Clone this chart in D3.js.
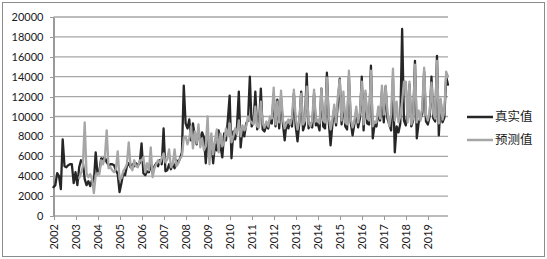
<!DOCTYPE html>
<html>
  <head>
    <meta charset="utf-8" />
    <title>真实值与预测值</title>
    <script src="https://d3js.org/d3.v7.min.js"></script>
    <style>
      body {
        margin: 0;
        background: #fff;
      }
      .axis text {
        font-family: Lato, "Noto Sans", sans-serif;
        font-size: 11px;
        fill: #1a1a1a;
      }
      .axis path,
      .axis line {
        stroke: #9a9a9a;
        shape-rendering: crispEdges;
      }
      .legend text {
        font-family: "Noto Sans CJK SC", sans-serif;
        font-size: 12.5px;
        fill: #1a1a1a;
      }
    </style>
  </head>
  <body>
    <svg id="chart" width="547" height="259"></svg>

    <script>
      // Year labels on the x axis (one label every 12 monthly points)
      const years = d3.range(2002, 2020);
      const yTicks = d3.range(0, 20001, 2000);
      const seriesNames = ['真实值', '预测值'];

      // Monthly values, one row per year
      const realValues = [
        2900, 3100, 4300, 4000, 2700, 7700, 5000, 4900, 5100, 5200, 5200, 3300,   // 2002
        4400, 3100, 4900, 5600, 5400, 3700, 3100, 3500, 3000, 3600, 3400, 6400,   // 2003
        4200, 4500, 5800, 5700, 5900, 5400, 5100, 5200, 5200, 5100, 4600, 4200,   // 2004
        2400, 3300, 4300, 4100, 5000, 5300, 4900, 5200, 5000, 5300, 5100, 5300,   // 2005
        7300, 4300, 4100, 4500, 4400, 5200, 4300, 5000, 5300, 5000, 5600, 5200,   // 2006
        8800, 4500, 4600, 5200, 4700, 5300, 4800, 5600, 5400, 5800, 6400, 13100,  // 2007
        9300, 8800, 9700, 7600, 9300, 8000, 7200, 8700, 7500, 8400, 7900, 5300,   // 2008
        8000, 6500, 7800, 5300, 7200, 6600, 8600, 7000, 5900, 8300, 7600, 9600,   // 2009
        12100, 5800, 8500, 7700, 9000, 12500, 6900, 8800, 8000, 9300, 9600, 14000, // 2010
        9000, 9400, 12500, 8700, 9200, 12800, 8700, 8500, 9100, 8800, 9600, 9300, // 2011
        12200, 9000, 11700, 8800, 11900, 9300, 7600, 9400, 8800, 9600, 9000, 12300, // 2012
        9000, 7500, 9400, 12500, 8600, 9200, 14300, 8800, 9300, 8900, 12300, 9100, // 2013
        9300, 8600, 12800, 9000, 8800, 14400, 9500, 7100, 9200, 10800, 9100, 11300, // 2014
        13800, 9200, 11900, 9000, 8700, 14000, 9400, 8100, 9300, 10500, 8900, 9800, // 2015
        14000, 8600, 12300, 9300, 9200, 15100, 7800, 9200, 9000, 10400, 9600, 12500, // 2016
        9400, 13000, 9800, 9200, 8600, 13800, 6400, 9000, 8400, 9300, 18800, 9600, // 2017
        9100, 10500, 13200, 9000, 9600, 15600, 7800, 9400, 9800, 10300, 14500, 9500, // 2018
        9200, 10000, 14000, 9800, 9500, 16100, 8100, 11600, 9400, 9900, 14000, 13200 // 2019
      ];

      const predValues = [
        null, null, null, null, null, null, null, null, null, null, null, null,   // 2002
        null, null, 3800, 4300, 5000, 9400, 4300, 3900, 4200, 3700, 2300, 4100,   // 2003
        4300, 4200, 5600, 5200, 5900, 8600, 4800, 4900, 4600, 4400, 4700, 6500,   // 2004
        3700, 3800, 4500, 4800, 5200, 7400, 5000, 4600, 5600, 5000, 4900, 5600,   // 2005
        5600, 5900, 4400, 5300, 4600, 6900, 3900, 4800, 5200, 5600, 5300, 5800,   // 2006
        6300, 5400, 5700, 6700, 4900, 5200, 6700, 5000, 5300, 5800, 6000, 7900,   // 2007
        8000, 7200, 7800, 9000, 6800, 8500, 7300, 9200, 6900, 7800, 6600, 7000,   // 2008
        10000, 5200, 8300, 6200, 7600, 8700, 6400, 8300, 7000, 7400, 8800, 8000,  // 2009
        9300, 7400, 8000, 8800, 8200, 9600, 8000, 9100, 8600, 9000, 10000, 9600,  // 2010
        9400, 9200, 11000, 9000, 8900, 11500, 9300, 8900, 9500, 9000, 10000, 9800, // 2011
        12900, 9200, 11500, 9400, 12600, 9700, 8800, 9300, 9700, 9200, 9900, 12700, // 2012
        9800, 8700, 9700, 12300, 9200, 9600, 13000, 9400, 9000, 9600, 12700, 9500, // 2013
        9700, 9300, 12800, 9600, 9400, 13900, 10000, 8700, 9700, 11200, 9400, 12100, // 2014
        13700, 9600, 12500, 9400, 9200, 14600, 9800, 8900, 9500, 11000, 9400, 10400, // 2015
        13500, 9200, 12600, 9800, 9600, 14600, 9000, 9500, 9400, 11000, 9800, 13100, // 2016
        10200, 13100, 10500, 9000, 10200, 14800, 9600, 11500, 9400, 10000, 11500, 13500, // 2017
        13500, 9400, 13500, 9200, 9800, 15200, 9400, 10600, 9600, 11000, 14900, 10200, // 2018
        9600, 10400, 13400, 10300, 9800, 15600, 9300, 11800, 9700, 10500, 14500, 14000 // 2019
      ];

      const width = 547;
      const height = 259;
      const plot = { left: 53.5, right: 448, top: 17, bottom: 216 };

      const svg = d3.select('#chart');

      // Outer chart border
      svg.append('rect')
         .attr('x', 2.5).attr('y', 2.5)
         .attr('width', 542).attr('height', 254)
         .attr('fill', 'none')
         .attr('stroke', '#8c8c8c')
         .attr('stroke-width', 1);

      const x = d3.scaleLinear()
                  .domain([0, realValues.length - 1])
                  .range([plot.left, plot.right]);
      const y = d3.scaleLinear()
                  .domain([0, 20000])
                  .range([plot.bottom, plot.top]);

      // Horizontal gridlines
      svg.append('g')
         .selectAll('line')
         .data(yTicks)
         .join('line')
         .attr('x1', plot.left)
         .attr('x2', plot.right)
         .attr('y1', d => y(d))
         .attr('y2', d => y(d))
         .attr('stroke', '#a6a6a6')
         .attr('stroke-width', 1.3);

      // Y axis
      const yAxisGroup = svg.append('g')
         .attr('class', 'axis')
         .attr('transform', `translate(${plot.left},0)`)
         .call(d3.axisLeft(y)
                 .tickValues(yTicks)
                 .tickFormat(d3.format('d'))
                 .tickSize(4)
                 .tickSizeOuter(0)
                 .tickPadding(6));
      yAxisGroup.select('.domain').attr('stroke-width', 1.3);

      // X axis with yearly ticks
      const xAxisGroup = svg.append('g')
         .attr('class', 'axis')
         .attr('transform', `translate(0,${plot.bottom})`)
         .call(d3.axisBottom(x)
                 .tickValues(years.map((yr, i) => i * 12))
                 .tickFormat(i => years[i / 12])
                 .tickSize(4)
                 .tickSizeOuter(0));
      xAxisGroup.select('.domain').remove();
      xAxisGroup.selectAll('.tick text')
         .attr('transform', 'rotate(-90)')
         .attr('text-anchor', 'end')
         .attr('x', -8)
         .attr('y', 0)
         .attr('dy', '0.35em');

      const line = d3.line()
                     .defined(d => d != null)
                     .x((d, i) => x(i))
                     .y(d => y(d));

      const colors = ['#262626', '#a6a6a6'];
      const seriesData = [realValues, predValues];

      svg.append('g')
         .selectAll('path')
         .data(seriesData)
         .join('path')
         .attr('fill', 'none')
         .attr('stroke', (d, i) => colors[i])
         .attr('stroke-width', 2.3)
         .attr('stroke-linejoin', 'round')
         .attr('stroke-linecap', 'round')
         .attr('d', d => line(d));

      // Legend
      const legend = svg.append('g').attr('class', 'legend');
      const legendRows = legend.selectAll('g')
         .data(seriesNames)
         .join('g')
         .attr('transform', (d, i) => `translate(467,${117 + i * 23})`);
      legendRows.append('line')
         .attr('x1', 0).attr('x2', 26)
         .attr('stroke', (d, i) => colors[i])
         .attr('stroke-width', 2.5);
      legendRows.append('text')
         .attr('x', 28)
         .attr('dy', '0.35em')
         .text(d => d);
    </script>
  </body>
</html>
